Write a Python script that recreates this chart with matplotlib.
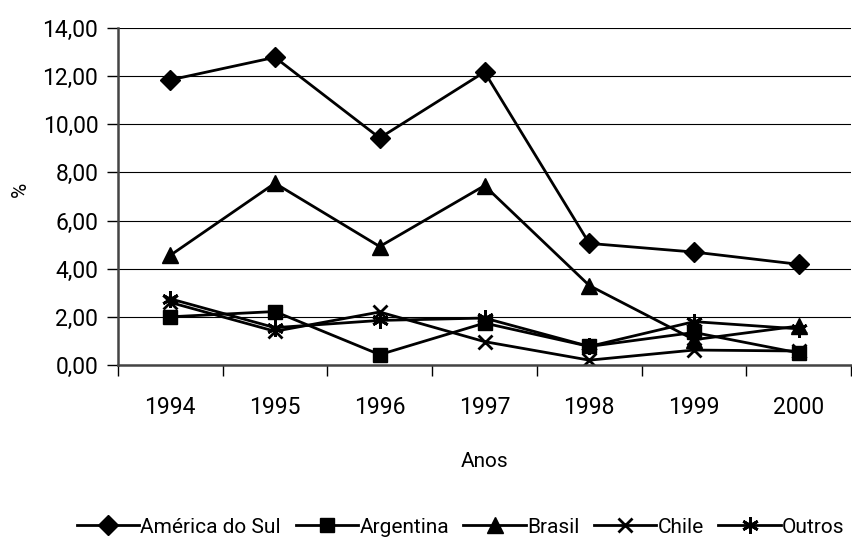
import matplotlib
matplotlib.use("Agg")
from matplotlib import pyplot as plt
from matplotlib.ticker import FuncFormatter, FixedLocator

plt.rcParams['font.family'] = ['Roboto', 'DejaVu Sans']

anos = ["1994", "1995", "1996", "1997", "1998", "1999", "2000"]
america_do_sul = [11.84, 12.78, 9.43, 12.17, 5.05, 4.69, 4.18]
argentina = [2.00, 2.22, 0.43, 1.74, 0.77, 1.35, 0.50]
brasil = [4.55, 7.55, 4.92, 7.45, 3.30, 1.05, 1.62]
chile = [2.60, 1.40, 2.20, 0.97, 0.20, 0.62, 0.58]
outros = [2.75, 1.55, 1.85, 1.95, 0.77, 1.80, 1.50]

series = [
    ("América do Sul", america_do_sul, dict(marker="D", ms=10)),
    ("Argentina", argentina, dict(marker="s", ms=10)),
    ("Brasil", brasil, dict(marker="^", ms=12)),
    ("Chile", chile, dict(marker="x", ms=10, mew=2)),
    ("Outros", outros, dict(marker=(6, 2, 0), ms=12, mew=2)),
]

fs = 16.5

fig = plt.figure(figsize=(8.53, 5.48), dpi=100)
ax = fig.add_axes([0.138, 0.334, 0.86, 0.615])

x = list(range(len(anos)))
for nome, vals, st in series:
    ax.plot(x, vals, color="black", lw=2, label=nome, **st)

ax.set_xlim(-0.5, len(anos) - 0.5)
ax.set_ylim(0, 14)
ax.set_yticks(range(0, 15, 2))
ax.yaxis.set_major_formatter(FuncFormatter(lambda v, p: f"{v:.2f}".replace(".", ",")))
ax.grid(axis="y", color="black", lw=0.8)
ax.set_axisbelow(True)

# category labels centred, tick marks on the boundaries
ax.set_xticks(x)
ax.set_xticklabels(anos)
ax.xaxis.set_minor_locator(FixedLocator([i - 0.5 for i in range(len(anos) + 1)]))
ax.tick_params(axis="x", which="major", length=0, pad=22, labelsize=fs)
ax.tick_params(axis="x", which="minor", length=8, width=1, direction="out")
ax.tick_params(axis="y", length=8, width=1, direction="out", labelsize=fs, pad=6)

for s in ["top", "right"]:
    ax.spines[s].set_visible(False)
for s in ["left", "bottom"]:
    ax.spines[s].set_color("#444444")
    ax.spines[s].set_linewidth(1.8)

ax.set_xlabel("Anos", fontsize=15, labelpad=24)
ax.set_ylabel("%", fontsize=15)
ax.yaxis.set_label_coords(-0.12, 0.52)

fig.legend(loc="center", bbox_to_anchor=(0.54, 0.038), ncol=5, frameon=False,
           fontsize=15, handlelength=3.0, handletextpad=0.05, columnspacing=0.7)

fig.savefig("out.png", dpi=100)
